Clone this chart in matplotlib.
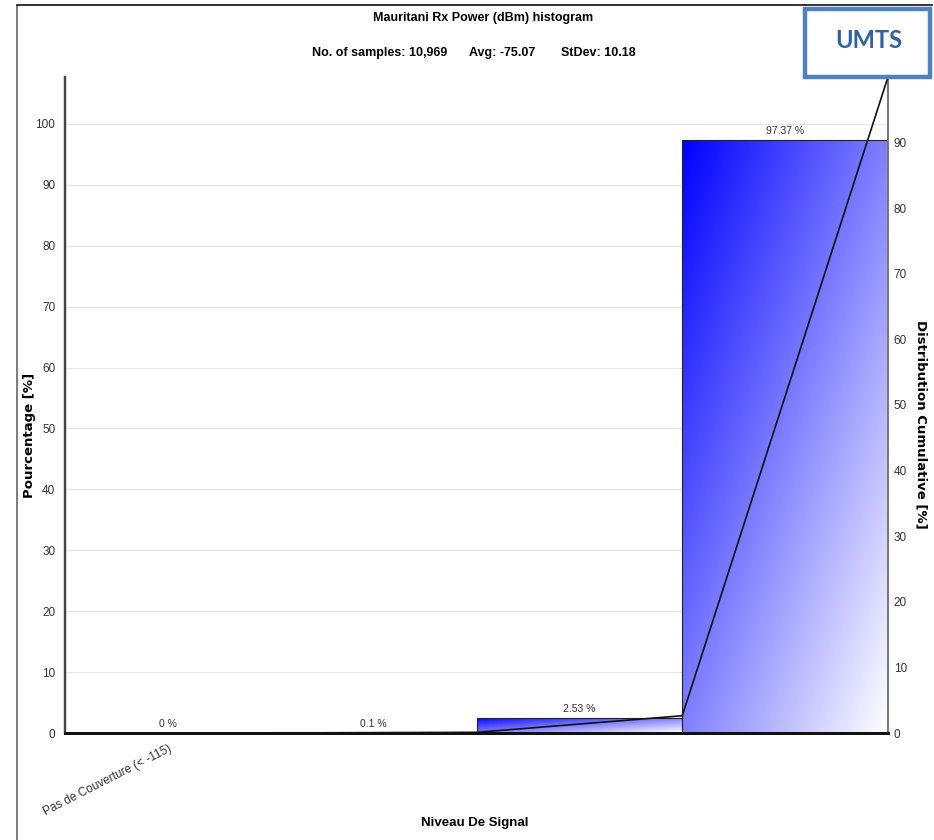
import numpy as np
import matplotlib
matplotlib.use("Agg")
import matplotlib.pyplot as plt
from matplotlib import font_manager
from matplotlib.patches import Rectangle
from matplotlib.lines import Line2D

# Data
bins = ["Pas de Couverture (< -115)", "", "", ""]
share = [0.0, 0.1, 2.53, 97.37]
cumul = [0.0, 0.1, 2.63, 100.0]
n_samples = "10,969"
avg = -75.07
stdev = 10.18

names = {f.name for f in font_manager.fontManager.ttflist}
fam = "Liberation Sans Narrow" if "Liberation Sans Narrow" in names else "Liberation Sans"
plt.rcParams["font.family"] = [fam, "DejaVu Sans"]

fig = plt.figure(figsize=(9.34, 8.4), dpi=100)
ax = fig.add_axes([65 / 934, 107 / 840, 823 / 934, 656 / 840])
ax2 = ax.twinx()

x = np.arange(len(share))
bars = ax.bar(x, share, width=1.0, align="edge", color="none",
              edgecolor="#222222", linewidth=0.8, zorder=3)

# diagonal blue -> white gradient inside each bar
u, v = np.meshgrid(np.linspace(0, 1, 200), np.linspace(0, 1, 200))
t = (u + v) / 2
grad = np.dstack([t, t, np.ones_like(t)])
for b in bars:
    if b.get_height() <= 0.5:
        continue
    x0, w, h = b.get_x(), b.get_width(), b.get_height()
    im = ax.imshow(grad, extent=(x0, x0 + w, 0, h), origin="upper",
                   aspect="auto", zorder=2, interpolation="bilinear")
    im.set_clip_path(b)

for xi, val in zip(x, share):
    ax.text(xi + 0.5, val + 0.6, f"{val:g} %", ha="center", va="bottom",
            fontsize=7.5, color="#333333", zorder=4)

ax.set_xlim(0, len(share))
ax.set_ylim(0, 107.7)
ax.set_yticks(range(0, 101, 10))
ax.set_xticks(x + 0.5)
ax.set_xticklabels(bins, rotation=27, ha="right", rotation_mode="anchor",
                   fontsize=7.5, color="#333333")
ax.grid(axis="y", color="#e6e6e6", linewidth=0.8, zorder=0)
ax.set_axisbelow(True)
ax.tick_params(axis="both", length=0, labelsize=8.5, colors="#333333")
ax.tick_params(axis="x", pad=7)
ax.tick_params(axis="y", pad=7)

ax2.plot(x + 1, cumul, color="#111111", linewidth=1.2, zorder=5)
ax2.set_ylim(0, 100)
ax2.set_yticks(range(0, 91, 10))
ax2.tick_params(axis="y", length=0, labelsize=8.5, colors="#333333", pad=4)

for a in (ax, ax2):
    a.spines["top"].set_visible(False)
    a.spines["left"].set_color("#444444")
    a.spines["left"].set_linewidth(1.6)
    a.spines["right"].set_color("#777777")
    a.spines["right"].set_linewidth(1.2)
    a.spines["bottom"].set_color("#111111")
    a.spines["bottom"].set_linewidth(2.0)

# axis titles
fig.text(29 / 934, 1 - 435 / 840, "Pourcentage [%]", rotation=90,
         ha="center", va="center", fontsize=9.5, fontweight="bold",
         family="DejaVu Sans")
fig.text(921 / 934, 1 - 424 / 840, "Distribution Cumulative [%]", rotation=-90,
         ha="center", va="center", fontsize=9.5, fontweight="bold",
         family="DejaVu Sans")
fig.text(475 / 934, 1 - 823 / 840, "Niveau De Signal",
         ha="center", va="center", fontsize=9.5, fontweight="bold")

# titles
fig.text(483 / 934, 1 - 18 / 840, "Mauritani Rx Power (dBm) histogram",
         ha="center", va="center", fontsize=9, fontweight="bold")
fig.text(380 / 934, 1 - 53 / 840, f"No. of samples: {n_samples}",
         ha="center", va="center", fontsize=9, fontweight="bold")
fig.text(502 / 934, 1 - 53 / 840, f"Avg: {avg:.2f}",
         ha="center", va="center", fontsize=9, fontweight="bold")
fig.text(598 / 934, 1 - 53 / 840, f"StDev: {stdev:.2f}",
         ha="center", va="center", fontsize=9, fontweight="bold")

# outer frame
fig.add_artist(Line2D([17 / 934, 17 / 934], [0, 1 - 6 / 840],
                      color="#666666", linewidth=1.2))
fig.add_artist(Line2D([17 / 934, 932 / 934], [1 - 5 / 840, 1 - 5 / 840],
                      color="#111111", linewidth=1.2))

# UMTS badge
fig.add_artist(Rectangle((805 / 934, 1 - 77 / 840), 125 / 934, 68 / 840,
                         transform=fig.transFigure, facecolor="white",
                         edgecolor="#4F81BD", linewidth=3.2, zorder=10))
fig.text(869 / 934, 1 - 41 / 840, "UMTS", ha="center", va="center",
         fontsize=17, fontweight="bold", color="#2E5FA8",
         family="Lato", zorder=11)

fig.savefig("out.png", dpi=100, facecolor="white")
